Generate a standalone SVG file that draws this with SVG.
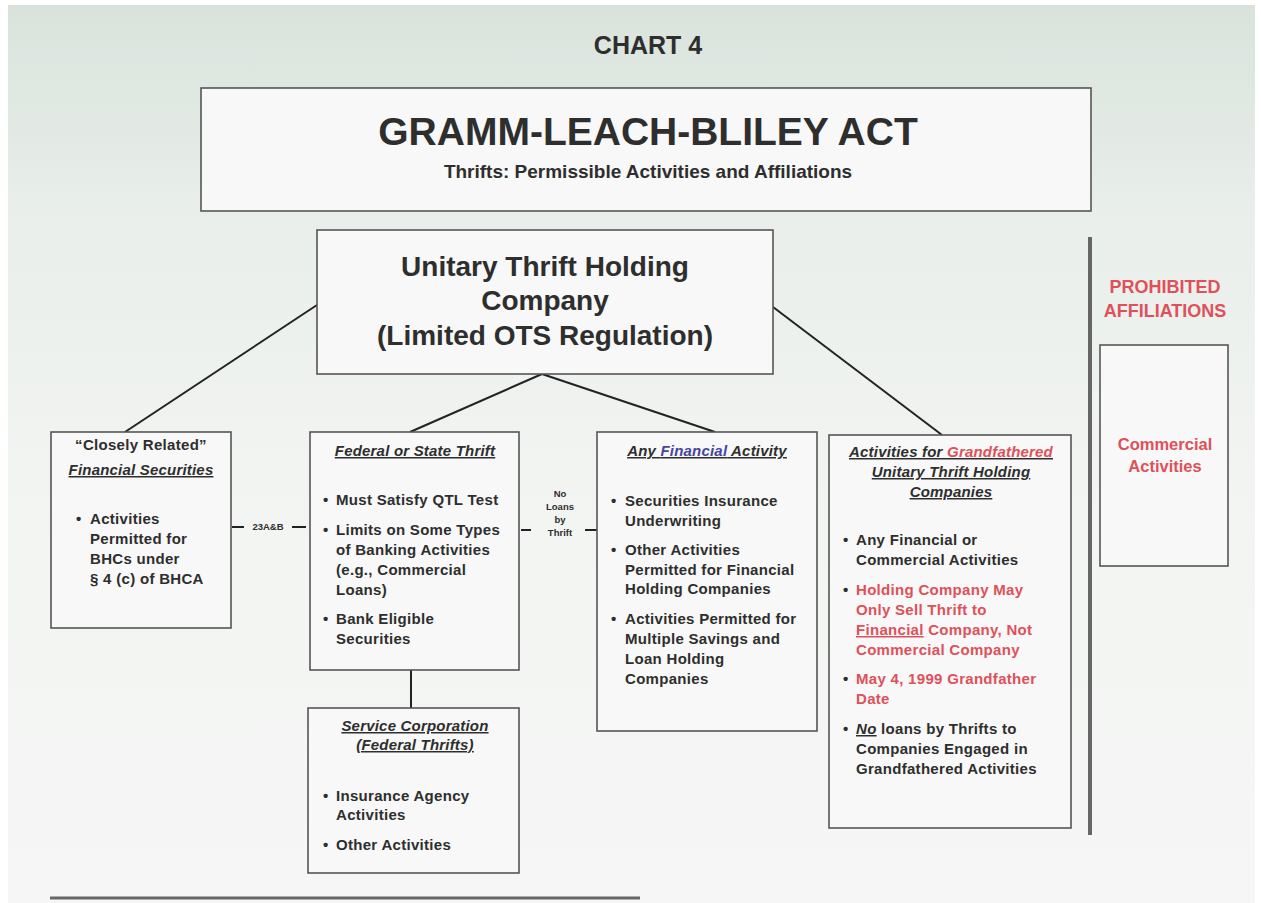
<svg xmlns="http://www.w3.org/2000/svg" width="1261" height="903" viewBox="0 0 1261 903">
<defs>
<linearGradient id="bg" x1="0" y1="0" x2="0" y2="1">
<stop offset="0" stop-color="#d9e3dc"/>
<stop offset="0.25" stop-color="#eaefeb"/>
<stop offset="0.6" stop-color="#f3f5f3"/>
<stop offset="1" stop-color="#f5f6f5"/>
</linearGradient>
</defs>
<style>
.box{fill:#f7f8f7;stroke:#555;stroke-width:1.6}
.con{stroke:#222;stroke-width:2;fill:none}
text{font-family:"Liberation Sans",Arial,Helvetica,sans-serif;font-weight:bold;fill:#2e2e2e}
.t{font-size:15px;letter-spacing:0.3px}
.h{font-size:15px;font-style:italic;text-decoration:underline;text-anchor:middle;letter-spacing:0.2px}
.c{text-anchor:middle}
.red{fill:#e0505a}
.blue{fill:#4646a0}
.s{font-size:9.5px}
</style>
<rect x="0" y="0" width="1261" height="903" fill="#ffffff"/>
<rect x="8" y="5" width="1247" height="898" fill="url(#bg)"/>

<text x="648" y="54" class="c" font-size="25">CHART 4</text>

<g id="title">
<rect class="box" x="201" y="88" width="890" height="123"/>
<text x="648" y="145" class="c" font-size="39">GRAMM-LEACH-BLILEY ACT</text>
<text x="648" y="178" class="c" font-size="19">Thrifts: Permissible Activities and Affiliations</text>
</g>

<g id="connectors">
<line class="con" x1="317" y1="305" x2="125" y2="432"/>
<line class="con" x1="542" y1="374" x2="410" y2="432"/>
<line class="con" x1="542" y1="374" x2="715" y2="432"/>
<line class="con" x1="773" y1="307" x2="942" y2="435"/>
<line class="con" x1="411" y1="670" x2="411" y2="708"/>
<line class="con" x1="232" y1="527" x2="244" y2="527"/>
<line class="con" x1="292" y1="527" x2="306" y2="527"/>
<line class="con" x1="521" y1="530" x2="531" y2="530"/>
<line class="con" x1="585" y1="530" x2="597" y2="530"/>
<text x="268" y="530" class="c s">23A&amp;B</text>
<text x="560" y="497" class="c s">No</text>
<text x="560" y="510" class="c s">Loans</text>
<text x="560" y="523" class="c s">by</text>
<text x="560" y="536" class="c s">Thrift</text>
</g>

<g id="unitary">
<rect class="box" x="317" y="230" width="456" height="144"/>
<text x="545" y="276" class="c" font-size="28">Unitary Thrift Holding</text>
<text x="545" y="310" class="c" font-size="28">Company</text>
<text x="545" y="345" class="c" font-size="28">(Limited OTS Regulation)</text>
</g>

<g id="closely-related">
<rect class="box" x="51" y="432" width="180" height="196"/>
<text x="141" y="450" class="c t">“Closely Related”</text>
<text x="141" y="475" class="h">Financial Securities</text>
<text x="76" y="524" class="t">•</text>
<text x="90" y="524" class="t">Activities</text>
<text x="90" y="544" class="t">Permitted for</text>
<text x="90" y="564" class="t">BHCs under</text>
<text x="90" y="584" class="t">§ 4 (c) of BHCA</text>
</g>

<g id="federal-thrift">
<rect class="box" x="310" y="432" width="209" height="238"/>
<text x="415" y="456" class="h">Federal or State Thrift</text>
<text x="323" y="505" class="t">•</text>
<text x="336" y="505" class="t">Must Satisfy QTL Test</text>
<text x="323" y="535" class="t">•</text>
<text x="336" y="535" class="t">Limits on Some Types</text>
<text x="336" y="555" class="t">of Banking Activities</text>
<text x="336" y="575" class="t">(e.g., Commercial</text>
<text x="336" y="595" class="t">Loans)</text>
<text x="323" y="624" class="t">•</text>
<text x="336" y="624" class="t">Bank Eligible</text>
<text x="336" y="644" class="t">Securities</text>
</g>

<g id="service-corp">
<rect class="box" x="308" y="708" width="211" height="165"/>
<text x="415" y="731" class="h">Service Corporation</text>
<text x="415" y="750" class="h">(Federal Thrifts)</text>
<text x="323" y="801" class="t">•</text>
<text x="336" y="801" class="t">Insurance Agency</text>
<text x="336" y="820" class="t">Activities</text>
<text x="323" y="850" class="t">•</text>
<text x="336" y="850" class="t">Other Activities</text>
</g>

<g id="any-financial">
<rect class="box" x="597" y="432" width="220" height="299"/>
<text x="707" y="456" class="h">Any <tspan class="blue">Financial</tspan> Activity</text>
<text x="611" y="506" class="t">•</text>
<text x="625" y="506" class="t">Securities Insurance</text>
<text x="625" y="526" class="t">Underwriting</text>
<text x="611" y="555" class="t">•</text>
<text x="625" y="555" class="t">Other Activities</text>
<text x="625" y="575" class="t">Permitted for Financial</text>
<text x="625" y="594" class="t">Holding Companies</text>
<text x="611" y="624" class="t">•</text>
<text x="625" y="624" class="t">Activities Permitted for</text>
<text x="625" y="644" class="t">Multiple Savings and</text>
<text x="625" y="664" class="t">Loan Holding</text>
<text x="625" y="684" class="t">Companies</text>
</g>

<g id="grandfathered">
<rect class="box" x="829" y="435" width="242" height="393"/>
<text x="951" y="457" class="h">Activities for <tspan class="red">Grandfathered</tspan></text>
<text x="951" y="477" class="h">Unitary Thrift Holding</text>
<text x="951" y="497" class="h">Companies</text>
<text x="843" y="545" class="t">•</text>
<text x="856" y="545" class="t">Any Financial or</text>
<text x="856" y="565" class="t">Commercial Activities</text>
<text x="843" y="595" class="t">•</text>
<text x="856" y="595" class="t red">Holding Company May</text>
<text x="856" y="615" class="t red">Only Sell Thrift to</text>
<text x="856" y="635" class="t red"><tspan text-decoration="underline">Financial</tspan> Company, Not</text>
<text x="856" y="655" class="t red">Commercial Company</text>
<text x="843" y="684" class="t">•</text>
<text x="856" y="684" class="t red">May 4, 1999 Grandfather</text>
<text x="856" y="704" class="t red">Date</text>
<text x="843" y="734" class="t">•</text>
<text x="856" y="734" class="t"><tspan font-style="italic" text-decoration="underline">No</tspan> loans by Thrifts to</text>
<text x="856" y="754" class="t">Companies Engaged in</text>
<text x="856" y="774" class="t">Grandfathered Activities</text>
</g>

<g id="prohibited">
<line x1="1090" y1="237" x2="1090" y2="835" stroke="#666" stroke-width="4"/>
<text x="1165" y="293" class="c red" font-size="18">PROHIBITED</text>
<text x="1165" y="317" class="c red" font-size="18">AFFILIATIONS</text>
</g>

<g id="commercial">
<rect class="box" x="1100" y="345" width="128" height="221"/>
<text x="1165" y="450" class="c red" font-size="16.5">Commercial</text>
<text x="1165" y="472" class="c red" font-size="16.5">Activities</text>
</g>

<line x1="50" y1="898" x2="640" y2="898" stroke="#666" stroke-width="3"/>
</svg>
